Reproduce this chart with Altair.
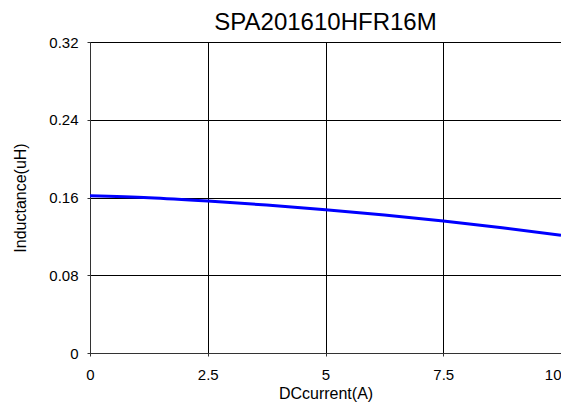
import altair as alt
import pandas as pd

current = [0, 1.25, 2.5, 3.75, 5, 6.25, 7.5, 8.75, 10]
inductance = [0.1619, 0.1598, 0.1564, 0.1523, 0.1475, 0.1420, 0.1358, 0.1288, 0.1211]
x_ticks = [0, 2.5, 5, 7.5, 10]
y_ticks = [0, 0.08, 0.16, 0.24, 0.32]

df = pd.DataFrame({"x": current, "y": inductance})

font = "Liberation Sans"

common = dict(grid=True, gridColor="#000000", gridOpacity=1, gridWidth=1,
              domainColor="#333333", tickColor="#333333", tickSize=3,
              labelFont=font, labelFontSize=15, labelColor="#000000",
              titleFont=font, titleFontSize=16, titleFontWeight="normal",
              titleColor="#000000", labelExpr="datum.value + ''",
              labelFlush=False, labelOverlap=False)

chart = alt.Chart(df).mark_line(color="#0000ff", strokeWidth=3, interpolate="monotone").encode(
    x=alt.X("x:Q", title="DCcurrent(A)",
            scale=alt.Scale(domain=[0, 10], nice=False, zero=False),
            axis=alt.Axis(values=x_ticks, labelPadding=11, titlePadding=3,
                          labelAlign=alt.ExprRef(expr="datum.value == 10 ? 'right' : 'center'"),
                          **common)),
    y=alt.Y("y:Q", title="Inductance(uH)",
            scale=alt.Scale(domain=[0, 0.32], nice=False),
            axis=alt.Axis(values=y_ticks, labelPadding=9, titlePadding=20, **common)),
).properties(
    width=471,
    height=311,
    title=alt.TitleParams("SPA201610HFR16M", font=font, fontSize=24, fontWeight="normal",
                          color="#000000", offset=0),
    autosize=alt.AutoSizeParams(type="none"),
    padding={"left": 82, "top": 34, "right": 0, "bottom": 50},
).configure_view(stroke="#333333", strokeWidth=1)

chart.save("out.html", embed_options={"renderer": "svg", "actions": False})
